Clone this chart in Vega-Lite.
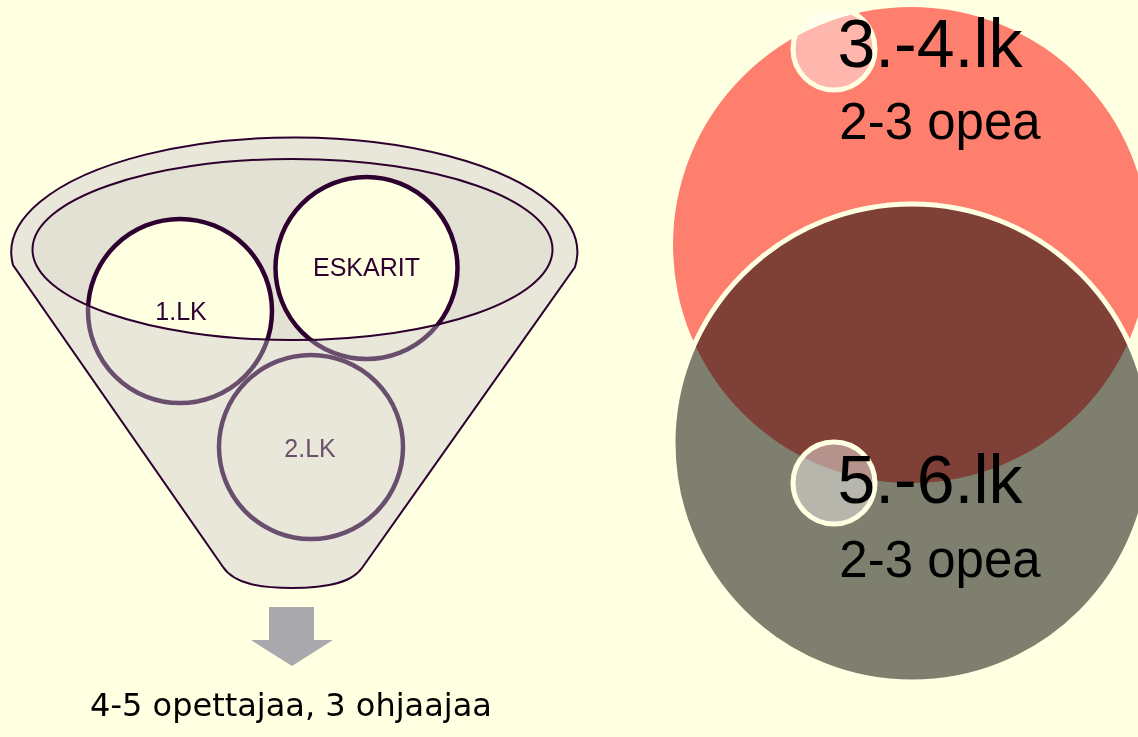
{
  "$schema": "https://vega.github.io/schema/vega-lite/v6.json",
  "autosize": {"type": "none"},
  "width": 1138,
  "height": 737,
  "padding": 0,
  "background": "#FFFFE2",
  "config": {"view": {"stroke": null}},
  "datasets": {
    "bigCircles": [
      {"group": "3.-4.lk", "x": 911, "y": 245, "r": 238},
      {"group": "5.-6.lk", "x": 912, "y": 443, "r": 239}
    ],
    "smallCircles": [
      {"group": "3.-4.lk", "x": 834, "y": 49, "r": 41},
      {"group": "5.-6.lk", "x": 834, "y": 483, "r": 41}
    ],
    "funnel": [{"part": "suppilo", "x": 293, "y": 252}],
    "arrow": [{"part": "nuoli", "x": 292, "y": 636}],
    "rings": [
      {"label": "1.LK", "x": 180, "y": 311, "r": 92},
      {"label": "ESKARIT", "x": 366.5, "y": 268, "r": 91},
      {"label": "2.LK", "x": 311, "y": 447, "r": 92}
    ],
    "ringLabels": [
      {"label": "1.LK", "x": 181, "y": 320, "front": "no"},
      {"label": "ESKARIT", "x": 366.5, "y": 276, "front": "no"},
      {"label": "2.LK", "x": 310, "y": 457, "front": "yes"}
    ],
    "bigTitles": [
      {"text": "3.-4.lk", "x": 930, "y": 67},
      {"text": "5.-6.lk", "x": 930, "y": 503}
    ],
    "subTitles": [
      {"text": "2-3 opea", "x": 940, "y": 139},
      {"text": "2-3 opea", "x": 940, "y": 577}
    ],
    "bottomText": [{"text": "4-5 opettajaa, 3 ohjaajaa", "x": 291, "y": 716}]
  },
  "encoding": {
    "x": {"field": "x", "type": "quantitative", "scale": {"domain": [0, 1138], "nice": false, "zero": false}, "axis": null},
    "y": {"field": "y", "type": "quantitative", "scale": {"domain": [0, 737], "nice": false, "zero": false, "reverse": true}, "axis": null}
  },
  "layer": [
    {
      "data": {"name": "bigCircles"},
      "transform": [{"filter": "datum.group === '3.-4.lk'"}],
      "mark": {"type": "point", "shape": "circle", "filled": true, "fill": "#FF7F6F", "strokeWidth": 0, "opacity": 1},
      "encoding": {"size": {"field": "r", "type": "quantitative", "scale": {"type": "pow", "exponent": 2, "domain": [0, 100], "range": [0, 40000]}, "legend": null}}
    },
    {
      "data": {"name": "bigCircles"},
      "transform": [{"filter": "datum.group === '5.-6.lk'"}],
      "mark": {"type": "point", "shape": "circle", "filled": true, "fill": "#7F7F7E", "strokeWidth": 0, "opacity": 1, "blend": "multiply"},
      "encoding": {"size": {"field": "r", "type": "quantitative", "scale": {"type": "pow", "exponent": 2, "domain": [0, 100], "range": [0, 40000]}, "legend": null}}
    },
    {
      "data": {"name": "bigCircles"},
      "transform": [{"filter": "datum.group === '5.-6.lk'"}],
      "mark": {"type": "point", "shape": "circle", "filled": false, "stroke": "#FFFFE2", "strokeWidth": 5, "opacity": 1},
      "encoding": {"size": {"field": "r", "type": "quantitative", "scale": {"type": "pow", "exponent": 2, "domain": [0, 100], "range": [0, 40000]}, "legend": null}}
    },
    {
      "data": {"name": "smallCircles"},
      "mark": {"type": "point", "shape": "circle", "filled": true, "fill": "#FFFFFF", "fillOpacity": 0.43, "stroke": "#FFFFE2", "strokeWidth": 5, "opacity": 1},
      "encoding": {"size": {"field": "r", "type": "quantitative", "scale": {"type": "pow", "exponent": 2, "domain": [0, 100], "range": [0, 40000]}, "legend": null}}
    },
    {
      "data": {"name": "bigTitles"},
      "mark": {"type": "text", "font": "Liberation Sans", "fontSize": 68, "align": "center", "baseline": "alphabetic", "color": "#000000"},
      "encoding": {"text": {"field": "text"}}
    },
    {
      "data": {"name": "subTitles"},
      "mark": {"type": "text", "font": "Liberation Sans", "fontSize": 51, "align": "center", "baseline": "alphabetic", "color": "#000000"},
      "encoding": {"text": {"field": "text"}}
    },
    {
      "data": {"name": "funnel"},
      "mark": {"type": "point", "filled": true, "size": 4, "opacity": 1, "fill": "#E3E1D3", "strokeWidth": 0,
        "shape": "M -260.5 -2.5 A 260 90.5 0 0 1 259.5 -2.5 A 260 90.5 0 0 1 -260.5 -2.5 Z"}
    },
    {
      "data": {"name": "rings"},
      "mark": {"type": "point", "shape": "circle", "filled": true, "fill": "#FFFFE2", "stroke": "#2E0030", "strokeWidth": 4.5, "opacity": 1},
      "encoding": {"size": {"field": "r", "type": "quantitative", "scale": {"type": "pow", "exponent": 2, "domain": [0, 100], "range": [0, 40000]}, "legend": null}}
    },
    {
      "data": {"name": "funnel"},
      "mark": {"type": "point", "filled": true, "size": 4, "opacity": 1, "fill": "#C5C2CD", "fillOpacity": 0.4, "stroke": "#2E0030", "strokeWidth": 2, "strokeOpacity": 1,
        "shape": "M -280 13 A 283 115 0 1 1 282 15 L 69 316 C 57 333 27 336 -1 336 C -29 336 -58 333 -70 315 Z M -260.5 -2.5 A 260 90.5 0 0 0 259.5 -2.5 A 260 90.5 0 0 0 -260.5 -2.5 Z"}
    },
    {
      "data": {"name": "arrow"},
      "mark": {"type": "point", "filled": true, "size": 4, "opacity": 1, "fill": "#A9A8AC", "strokeWidth": 0,
        "shape": "M -23 -29 L 22 -29 L 22 4 L 41 4 L 0 30 L -41 4 L -23 4 Z"}
    },
    {
      "data": {"name": "ringLabels"},
      "transform": [{"filter": "datum.front === 'no'"}],
      "mark": {"type": "text", "font": "Liberation Sans", "fontSize": 25, "align": "center", "baseline": "alphabetic", "color": "#2E0030"},
      "encoding": {"text": {"field": "label"}}
    },
    {
      "data": {"name": "ringLabels"},
      "transform": [{"filter": "datum.front === 'yes'"}],
      "mark": {"type": "text", "font": "Liberation Sans", "fontSize": 25, "align": "center", "baseline": "alphabetic", "color": "#6B506B"},
      "encoding": {"text": {"field": "label"}}
    },
    {
      "data": {"name": "bottomText"},
      "mark": {"type": "text", "font": "DejaVu Sans", "fontSize": 32, "align": "center", "baseline": "alphabetic", "color": "#000000"},
      "encoding": {"text": {"field": "text"}}
    }
  ]
}
